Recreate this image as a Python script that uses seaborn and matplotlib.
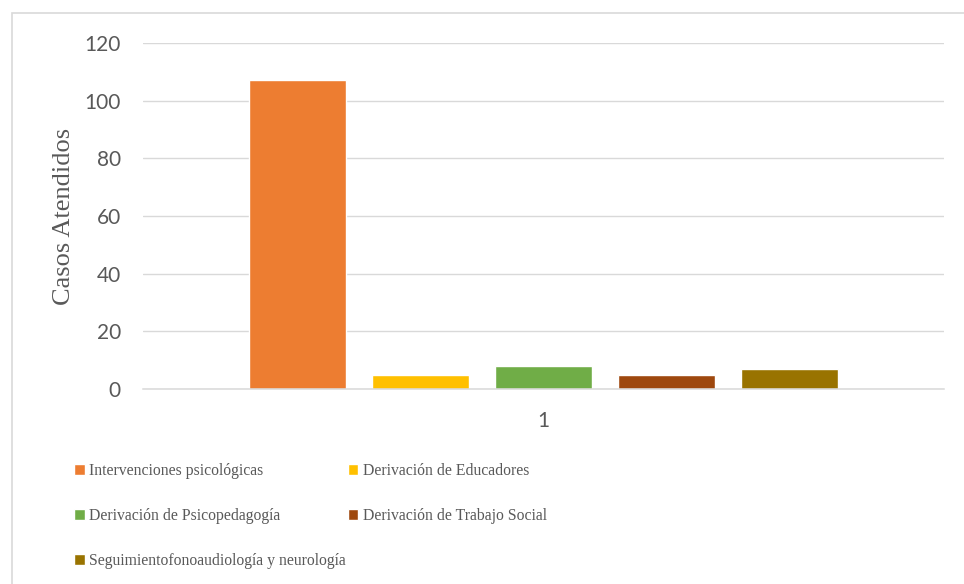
import matplotlib
matplotlib.use("Agg")
import matplotlib.pyplot as plt
from matplotlib.patches import Rectangle
import seaborn as sns
import pandas as pd

categories = ["1"]
series = [
    "Intervenciones psicológicas",
    "Derivación de Educadores",
    "Derivación de Psicopedagogía",
    "Derivación de Trabajo Social",
    "Seguimientofonoaudiología y neurología",
]
values = [107, 5, 8, 5, 7]
colors = ["#ED7D31", "#FFC000", "#70AD47", "#9E480E", "#997300"]
yticks = [0, 20, 40, 60, 80, 100, 120]

df = pd.DataFrame({"cat": categories * len(series), "serie": series, "val": values})

sns.set_theme(style="white")
plt.rcParams["font.family"] = ["Lato", "DejaVu Sans"]

W, H = 964, 584
fig = plt.figure(figsize=(W / 100, H / 100), dpi=100)
ax = fig.add_axes([143 / W, 1 - 389 / H, (944 - 143) / W, (389 - 43) / H])

sns.barplot(data=df, x="cat", y="val", hue="serie", hue_order=series,
            palette=colors, width=0.768, gap=0.21, ax=ax, legend=True,
            saturation=1)

ax.set_xlim(-0.5, 0.5)
ax.set_ylim(0, 120)
ax.set_yticks(yticks)
ax.yaxis.grid(True, color="#d9d9d9", linewidth=1.0)
ax.set_axisbelow(True)
for s in ["left", "right", "top"]:
    ax.spines[s].set_visible(False)
ax.spines["bottom"].set_color("#d9d9d9")
ax.spines["bottom"].set_linewidth(1.1)
ax.tick_params(axis="both", length=0, labelsize=15, colors="#595959", pad=16)
ax.set_xlabel("")
ax.set_ylabel("Casos Atendidos", family=["Liberation Serif"], fontsize=19,
              color="#595959")
ax.yaxis.set_label_coords(-(143 - 75) / (944 - 143), (389 - 216) / (389 - 43))

handles, labels = ax.get_legend_handles_labels()
ax.get_legend().remove()
order = [0, 2, 4, 1, 3]
leg = fig.legend([handles[i] for i in order], [labels[i] for i in order],
                 ncol=2, loc="upper left", bbox_to_anchor=(74 / W, 1 - 463 / H),
                 frameon=False, prop={"family": "Liberation Serif", "size": 11.3},
                 labelcolor="#595959", handlelength=0.67, handleheight=0.67,
                 handletextpad=0.3, labelspacing=1.85, columnspacing=0.1,
                 borderaxespad=0, borderpad=0)

fig.patches.append(Rectangle((12 / W, -0.1), 1.2, 1 - 13 / H + 0.1,
                             transform=fig.transFigure, fill=False,
                             edgecolor="#d9d9d9", linewidth=1.2))

fig.savefig("out.png", dpi=100)
